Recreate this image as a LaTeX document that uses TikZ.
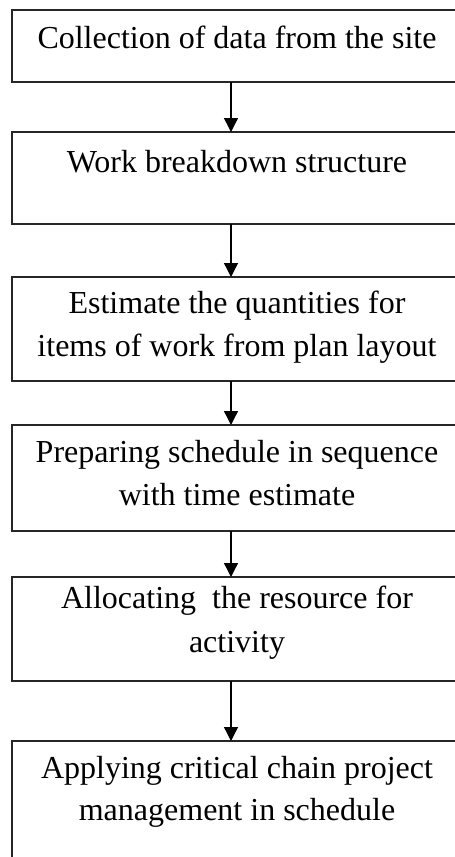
\documentclass[tikz,border=0pt]{standalone}
\usepackage{fontspec}
\setmainfont{Liberation Serif}
\usetikzlibrary{arrows.meta}
\begin{document}
\begin{tikzpicture}[x=1pt,y=1pt,
  box/.style={draw=black!85,line width=1.6pt,minimum width=450pt,inner sep=0pt,outer sep=0pt,anchor=north west},
  txt/.style={font=\fontsize{32}{42}\selectfont,anchor=base,inner sep=0pt},
  arr/.style={-{Triangle[length=14pt,width=14pt]},line width=1.3pt}]
\clip (0,0) rectangle (455,-857);
\node[box,minimum height=72pt] (b1) at (12,-10) {};
\node[box,minimum height=92pt] (b2) at (12,-132) {};
\node[box,minimum height=104pt] (b3) at (12,-277) {};
\node[box,minimum height=106pt] (b4) at (12,-425) {};
\node[box,minimum height=104pt] (b5) at (12,-577) {};
\node[box,minimum height=160pt] (b6) at (12,-741) {};
\node[txt] (t1) at (237,-48) {Collection of data from the site};
\node[txt] (t2) at (237,-172) {Work breakdown structure};
\node[txt] (t3a) at (237,-313) {Estimate the quantities for};
\node[txt] (t3b) at (237,-356) {items of work from plan layout};
\node[txt] (t4a) at (237,-462) {Preparing schedule in sequence};
\node[txt] (t4b) at (237,-505) {with time estimate};
\node[txt] (t5a) at (237,-608) {Allocating\ \ the resource for};
\node[txt] (t5b) at (237,-652) {activity};
\node[txt] (t6a) at (237,-778) {Applying critical chain project};
\node[txt] (t6b) at (237,-820) {management in schedule};
\draw[arr] ([xshift=-6pt]b1.south) -- ([xshift=-6pt]b2.north);
\draw[arr] ([xshift=-6pt]b2.south) -- ([xshift=-6pt]b3.north);
\draw[arr] ([xshift=-6pt]b3.south) -- ([xshift=-6pt]b4.north);
\draw[arr] ([xshift=-6pt]b4.south) -- ([xshift=-6pt]b5.north);
\draw[arr] ([xshift=-6pt]b5.south) -- ([xshift=-6pt]b6.north);
\end{tikzpicture}
\end{document}
